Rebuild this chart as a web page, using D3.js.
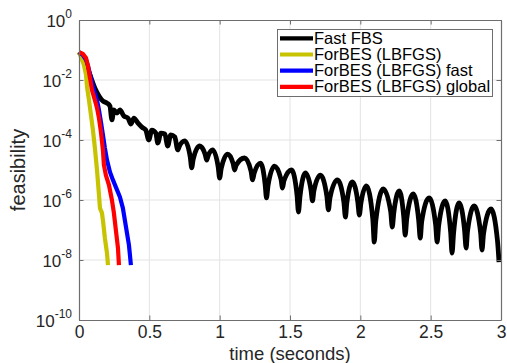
<!DOCTYPE html>
<html><head><meta charset="utf-8">
<script src="https://cdn.jsdelivr.net/npm/d3@7"></script>
<style>body{margin:0;background:#fff;} svg text{font-family:"Liberation Sans",Arial,Helvetica,sans-serif;}</style>
</head><body><svg id="c" width="507" height="363"></svg>
<script>
// ---- data (time in seconds, feasibility as log10 exponent) ----
const fbsTime = [0,0.043,0.078,0.113,0.142,0.170,0.199,0.220,0.234,0.248,0.270,0.291,0.319,0.348,0.369,0.390,0.418,0.447,0.475,0.496,0.518,0.546,0.560,0.582,0.610,0.631,0.652,0.681,0.702,
0.713,0.752,0.791,0.801, 0.812,0.858,0.897,0.908, 0.918,0.950,0.989,1.000, 1.011,1.057,1.096,1.106,
1.117,1.177,1.223,1.234, 1.245,1.291,1.323,1.333, 1.344,1.390,1.436,1.447, 1.457,1.511,1.550,1.560,
1.571,1.610,1.649,1.660, 1.670,1.716,1.762,1.773, 1.784,1.837,1.883,1.894, 1.904,1.943,1.982,1.993,
2.004,2.043,2.089,2.099, 2.110,2.163,2.216,2.227, 2.238,2.277,2.309,2.319, 2.330,2.376,2.415,2.426,
2.436,2.489,2.535,2.546, 2.557,2.603,2.642,2.652, 2.663,2.702,2.741,2.752, 2.762,2.809,2.855,2.865,
2.876,2.929,2.975,2.986];
const fbsLog10 = [-1.07,-1.40,-1.83,-2.27,-2.53,-2.70,-2.77,-2.87,-3.33,-3.00,-3.10,-3.00,-3.20,-3.27,-3.47,-3.27,-3.43,-3.57,-3.67,-4.00,-3.67,-3.77,-4.10,-3.77,-3.80,-4.20,-3.83,-3.90,-4.33,
-4.21,-4.03,-4.57,-4.93, -4.64,-4.20,-4.48,-4.67, -4.53,-4.33,-4.89,-5.27, -4.95,-4.47,-4.79,-5.00,
-4.84,-4.60,-5.04,-5.33, -5.11,-4.77,-5.47,-5.93, -5.51,-4.87,-5.31,-5.60, -5.36,-5.00,-5.84,-6.40,
-5.88,-5.10,-5.66,-6.03, -5.69,-5.17,-5.87,-6.33, -5.93,-5.33,-6.07,-6.57, -6.10,-5.40,-6.06,-6.50,
-6.11,-5.53,-6.65,-7.40, -6.69,-5.63,-6.39,-6.90, -6.42,-5.70,-6.58,-7.17, -6.62,-5.80,-6.68,-7.27,
-6.73,-5.93,-6.81,-7.40, -6.85,-6.03,-7.07,-7.77, -7.10,-6.10,-7.00,-7.60, -7.04,-6.20,-7.08,-7.67,
-7.12,-6.30,-7.36,-8.07];
const lbfgsTime = [0,0.014,0.035,0.050,0.057,0.071,0.085,0.099,0.113,0.128,0.142,0.149,0.163,0.170,0.184,0.199,0.206];
const lbfgsLog10 = [-1.07,-1.23,-1.50,-1.83,-2.23,-2.67,-3.17,-3.67,-4.27,-5.00,-5.83,-6.27,-6.43,-6.67,-7.27,-7.77,-8.17];
const fastTime = [0,0.028,0.050,0.064,0.085,0.106,0.128,0.142,0.156,0.170,0.184,0.199,0.220,0.241,0.262,0.291,0.312,0.326,0.340,0.355,0.362,0.369];
const fastLog10 = [-1.07,-1.17,-1.33,-1.53,-1.93,-2.33,-2.67,-3.00,-3.40,-3.83,-4.27,-4.67,-5.07,-5.33,-5.57,-5.90,-6.27,-6.67,-7.07,-7.50,-7.83,-8.17];
const globalTime = [0,0.028,0.050,0.064,0.078,0.092,0.113,0.128,0.142,0.156,0.170,0.177,0.191,0.213,0.234,0.248,0.262,0.277,0.284];
const globalLog10 = [-1.07,-1.13,-1.27,-1.53,-1.93,-2.33,-2.67,-2.93,-3.27,-3.73,-4.33,-4.83,-5.17,-5.50,-6.00,-6.43,-7.00,-7.60,-8.17];

const seriesNames = ["Fast FBS","ForBES (LBFGS)","ForBES (LBFGS) fast","ForBES (LBFGS) global"];
const xTicks = [0,0.5,1,1.5,2,2.5,3];
const xTickLabels = ["0","0.5","1","1.5","2","2.5","3"];
const yTickExps = [0,-2,-4,-6,-8,-10];
const xLabel = "time (seconds)";
const yLabel = "feasibility";

// ---- styles ----
const seriesColors = ["#000000","#c8c300","#0000ff","#ff0000"];
const seriesWidths = [4.8,4.2,4.2,4.2];

const svg = d3.select("#c");
const L = 79, R = 501, T = 20, B = 320;
const x = d3.scaleLinear().domain([0,3]).range([L,R]);
const y = d3.scaleLog().domain([1e-10,1]).range([B,T]);

const mk = (ts, ls) => ts.map((t,i)=>({t, v: Math.pow(10, ls[i])}));
const series = [
  {data: mk(fbsTime, fbsLog10), curve: d3.curveMonotoneX},
  {data: mk(lbfgsTime, lbfgsLog10), curve: d3.curveLinear},
  {data: mk(fastTime, fastLog10), curve: d3.curveLinear},
  {data: mk(globalTime, globalLog10), curve: d3.curveLinear}
];

// grid
const grid = svg.append("g");
grid.selectAll("line.gx").data(xTicks.slice(1,-1)).join("line")
  .attr("x1", d=>x(d)).attr("x2", d=>x(d)).attr("y1", T).attr("y2", B)
  .attr("stroke", "#e3e3e3").attr("stroke-width", 1);
grid.selectAll("line.gy").data(yTickExps.slice(1,-1)).join("line")
  .attr("y1", d=>y(Math.pow(10,d))).attr("y2", d=>y(Math.pow(10,d))).attr("x1", L).attr("x2", R)
  .attr("stroke", "#e3e3e3").attr("stroke-width", 1);

// data lines
series.forEach((s,i)=>{
  const line = d3.line().x(d=>x(d.t)).y(d=>y(d.v)).curve(s.curve);
  svg.append("path").datum(s.data).attr("d", line)
    .attr("fill","none").attr("stroke", seriesColors[i]).attr("stroke-width", seriesWidths[i])
    .attr("stroke-linejoin","round").attr("stroke-linecap","butt");
});

// axes
const axisColor = "#6e6e6e";
const gx = svg.append("g").attr("transform",`translate(0,${B})`)
  .call(d3.axisBottom(x).tickValues(xTicks).tickFormat((d,i)=>xTickLabels[i]).tickSizeInner(-4.5).tickSizeOuter(0).tickPadding(6));
const gxt = svg.append("g").attr("transform",`translate(0,${T})`)
  .call(d3.axisTop(x).tickValues(xTicks).tickFormat("").tickSizeInner(-4.5).tickSizeOuter(0));
const yVals = yTickExps.map(e=>Math.pow(10,e));
const gy = svg.append("g").attr("transform",`translate(${L},0)`)
  .call(d3.axisLeft(y).tickValues(yVals).tickFormat("").tickSizeInner(-4.5).tickSizeOuter(0));
const gyr = svg.append("g").attr("transform",`translate(${R},0)`)
  .call(d3.axisRight(y).tickValues(yVals).tickFormat("").tickSizeInner(-4.5).tickSizeOuter(0));
[gx,gxt,gy,gyr].forEach(g=>{
  g.select(".domain").attr("stroke", axisColor).attr("stroke-width",1.2);
  g.selectAll(".tick line").attr("stroke", axisColor).attr("stroke-width",1);
});
gx.selectAll(".tick text").attr("font-size",17.5).attr("fill","#262626")
  .attr("font-family",'"Liberation Sans",Arial,sans-serif');

// y tick labels with superscripts
gy.selectAll(".tick").each(function(d,i){
  const e = yTickExps[i];
  const t = d3.select(this).append("text").attr("x",-7).attr("y",6)
    .attr("text-anchor","end").attr("fill","#262626").attr("font-size",17);
  t.append("tspan").text("10");
  t.append("tspan").attr("dy",-8.5).attr("font-size",12).text(String(e));
});

// axis labels
svg.append("text").attr("x",(L+R)/2).attr("y",359.5).attr("text-anchor","middle")
  .attr("font-size",18.5).attr("fill","#262626").text(xLabel);
svg.append("text").attr("transform",`translate(25,${(T+B)/2}) rotate(-90)`).attr("text-anchor","middle")
  .attr("font-size",20).attr("fill","#262626").text(yLabel);

// legend
const lg = svg.append("g");
lg.append("rect").attr("x",277.5).attr("y",29.5).attr("width",215).attr("height",67)
  .attr("fill","#fff").attr("stroke","#6e6e6e").attr("stroke-width",1);
seriesNames.forEach((n,i)=>{
  const cy = 38.3 + i*16.2;
  lg.append("line").attr("x1",280).attr("x2",313).attr("y1",cy).attr("y2",cy)
    .attr("stroke",seriesColors[i]).attr("stroke-width",4.2);
  lg.append("text").attr("x",314).attr("y",cy+5.5).attr("font-size",16.5).attr("fill","#000").text(n);
});
</script></body></html>
